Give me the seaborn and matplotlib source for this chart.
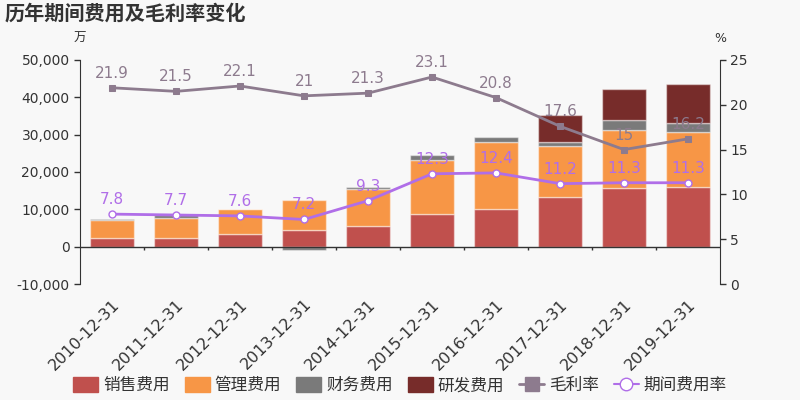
import numpy as np
import pandas as pd
import matplotlib
matplotlib.use("Agg")
import matplotlib.pyplot as plt
from matplotlib.patches import Patch
from matplotlib.lines import Line2D
from matplotlib.ticker import FuncFormatter
import seaborn as sns

dates = ["2010-12-31", "2011-12-31", "2012-12-31", "2013-12-31", "2014-12-31",
         "2015-12-31", "2016-12-31", "2017-12-31", "2018-12-31", "2019-12-31"]
sales = [2300, 2300, 3400, 4450, 5500, 8750, 10100, 13200, 15700, 16000]
admin = [4750, 5300, 6700, 8150, 9900, 14400, 17900, 13800, 15550, 14750]
finance = [250, 900, 100, -900, 700, 1300, 1500, 1000, 2600, 2400]
rnd = [0, 0, 0, 0, 0, 0, 0, 7300, 8500, 10450]
gross_margin = [21.9, 21.5, 22.1, 21, 21.3, 23.1, 20.8, 17.6, 15, 16.2]
expense_rate = [7.8, 7.7, 7.6, 7.2, 9.3, 12.3, 12.4, 11.2, 11.3, 11.3]

bar_names = ["销售费用", "管理费用", "财务费用", "研发费用"]
bar_colors = ["#c0504d", "#f79646", "#7a7a7a", "#772c2a"]
gm_color = "#8d7b8e"
er_color = "#b06ee8"
bg = "#f8f8f8"

sns.set_style("white", {"axes.facecolor": bg, "figure.facecolor": bg})
plt.rcParams['font.family'] = ['DejaVu Sans', 'Noto Sans CJK SC']

pos = np.arange(len(dates))
s = np.array(sales, dtype=float)
a = np.array(admin, dtype=float)
f = np.array(finance, dtype=float)
r = np.array(rnd, dtype=float)
fin_base = np.where(f >= 0, s + a, 0)
rnd_base = s + a + np.clip(f, 0, None)

fig = plt.figure(figsize=(8, 4), dpi=100)
ax = fig.add_axes([0.1, 0.29, 0.8, 0.56])

edge = (1, 1, 1, 0.45)
bar_kw = dict(native_scale=True, width=0.7, errorbar=None, ax=ax, saturation=1,
              edgecolor=edge, linewidth=1)
sns.barplot(x=pos, y=s, color=bar_colors[0], **bar_kw)
sns.barplot(x=pos, y=a, bottom=s, color=bar_colors[1], **bar_kw)
sns.barplot(x=pos, y=f, bottom=fin_base, color=bar_colors[2], **bar_kw)
m = r > 0
sns.barplot(x=pos[m], y=r[m], bottom=rnd_base[m], color=bar_colors[3], **bar_kw)

ax.set_xlim(-0.5, len(dates) - 0.5)
ax.set_ylim(-10000, 50000)
ax.set_yticks(range(-10000, 50001, 10000))
ax.yaxis.set_major_formatter(FuncFormatter(lambda v, p: f"{int(v):,}"))
ax.axhline(0, color="#333333", lw=1, zorder=3)
ax.vlines(pos[:-1] + 0.5, -1000, 0, color="#333333", lw=1)

ax.set_xticks(pos)
ax.set_xticklabels(dates, rotation=45, ha="right", rotation_mode="anchor",
                   fontsize=11.5, color="#333333")
ax.tick_params(axis="x", length=0, pad=9)
ax.tick_params(axis="y", left=True, length=4, width=1, color="#333333",
               labelsize=10, labelcolor="#333333")
for sp in ["top", "right", "bottom"]:
    ax.spines[sp].set_visible(False)
ax.spines["left"].set_color("#333333")

ax2 = ax.twinx()
sns.lineplot(x=pos, y=gross_margin, ax=ax2, color=gm_color, linewidth=2,
             marker="s", markersize=5, markeredgecolor=gm_color)
sns.lineplot(x=pos, y=expense_rate, ax=ax2, color=er_color, linewidth=2,
             marker="o", markersize=5, markerfacecolor="white",
             markeredgecolor=er_color, markeredgewidth=1)
ax2.set_ylim(0, 25)
ax2.set_yticks(range(0, 26, 5))
ax2.tick_params(axis="y", right=True, length=4, width=1, color="#333333",
                labelsize=10, labelcolor="#333333")
for sp in ["top", "left", "bottom"]:
    ax2.spines[sp].set_visible(False)
ax2.spines["right"].set_color("#333333")
ax2.set_xlim(-0.5, len(dates) - 0.5)

for x, v in zip(pos, gross_margin):
    ax2.annotate(f"{v:g}", (x, v), xytext=(0, 10.5), textcoords="offset points",
                 ha="center", va="center", fontsize=11, color=gm_color)
for x, v in zip(pos, expense_rate):
    ax2.annotate(f"{v:g}", (x, v), xytext=(0, 10.5), textcoords="offset points",
                 ha="center", va="center", fontsize=11, color=er_color)

fig.text(0.006, 0.965, "历年期间费用及毛利率变化", fontsize=14.5, fontweight="bold",
         color="#333333", va="center", ha="left")
fig.text(0.1, 0.905, "万", fontsize=9, color="#333333", ha="center", va="center")
fig.text(0.9, 0.905, "%", fontsize=9, color="#333333", ha="center", va="center")

handles = [Patch(facecolor=c, edgecolor=c, label=n) for c, n in zip(bar_colors, bar_names)]
handles.append(Line2D([], [], color=gm_color, lw=2, marker="s", markersize=10,
                      label="毛利率"))
handles.append(Line2D([], [], color=er_color, lw=1.5, marker="o", markersize=9,
                      markerfacecolor="white", label="期间费用率"))
fig.legend(handles=handles, loc="center", bbox_to_anchor=(0.5, 0.037), ncol=6,
           frameon=False, fontsize=12, handlelength=1.5, handleheight=1.0,
           handletextpad=0.3, columnspacing=0.9, labelcolor="#333333")

fig.savefig("out.png", dpi=100, facecolor=bg)
